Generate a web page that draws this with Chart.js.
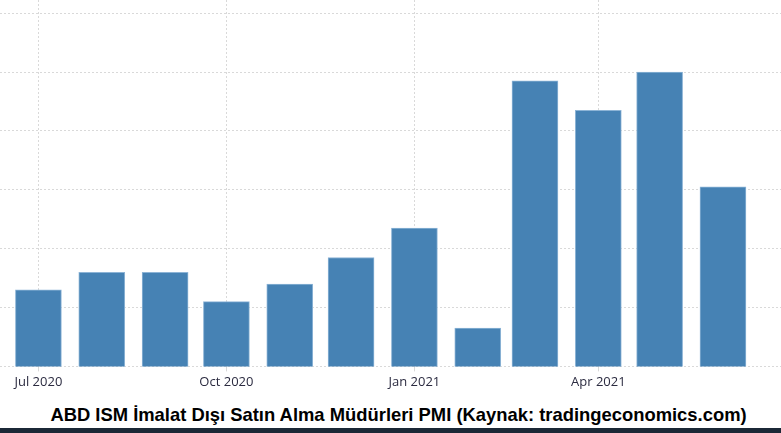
<!DOCTYPE html>
<html>
<head>
<meta charset="utf-8">
<script src="https://cdn.jsdelivr.net/npm/chart.js@4/dist/chart.umd.min.js"></script>
<style>
  html, body { margin: 0; padding: 0; background: #fff; }
  body { width: 781px; height: 433px; overflow: hidden; position: relative; }
  #wrap { position: absolute; left: 0; top: 0; width: 781px; height: 395px; }
  #title {
    position: absolute; left: 0; top: 405px; width: 797px; text-align: center;
    font: bold 18.4px "Liberation Sans", Arial, sans-serif; color: #000; line-height: 20px;
  }
  #band { position: absolute; left: 0; top: 428px; width: 781px; height: 5px; background: #1b2836; }
</style>
</head>
<body>
<div id="wrap"><canvas id="myChart"></canvas></div>
<div id="title">ABD ISM İmalat Dışı Satın Alma Müdürleri PMI (Kaynak: tradingeconomics.com)</div>
<div id="band"></div>
<script>
// aylar (ayın ilk günü) ve PMI değerleri
var months = ['2020-07', '2020-08', '2020-09', '2020-10', '2020-11', '2020-12',
              '2021-01', '2021-02', '2021-03', '2021-04', '2021-05', '2021-06'];
var values = [56.6, 57.2, 57.2, 56.2, 56.8, 57.7, 58.7, 55.3, 63.7, 62.7, 64.0, 60.1];
var tickMonths = ['2020-07', '2020-10', '2021-01', '2021-04'];
var tickLabels = ['Jul 2020', 'Oct 2020', 'Jan 2021', 'Apr 2021'];

var start = Date.UTC(2020, 6, 1);
function dayOf(m) {
  var p = m.split('-');
  return (Date.UTC(+p[0], +p[1] - 1, 1) - start) / 86400000;
}

var points = months.map(function (m, i) { return { x: dayOf(m), y: values[i] }; });
var tickDays = tickMonths.map(dayOf);

var ctx = document.getElementById('myChart').getContext('2d');
var myChart = new Chart(ctx, {
  type: 'bar',
  data: {
    datasets: [{
      label: 'PMI',
      data: points,
      backgroundColor: '#4682b4',
      borderColor: '#8db4d6',
      borderWidth: 1,
      barThickness: 46
    }]
  },
  options: {
    responsive: true,
    maintainAspectRatio: false,
    animation: false,
    layout: { padding: { left: 0, right: 0, top: 0, bottom: 2 } },
    plugins: { legend: { display: false }, tooltip: { enabled: false } },
    scales: {
      x: {
        type: 'linear',
        offset: false,
        min: -18.8,
        max: 363.4,
        afterBuildTicks: function (scale) {
          scale.ticks = tickDays.map(function (d) { return { value: d }; });
        },
        ticks: {
          autoSkip: false,
          maxRotation: 0,
          padding: 3,
          color: '#2b2b40',
          font: { family: '"Open Sans", "DejaVu Sans", sans-serif', size: 13 },
          callback: function (v) {
            var i = tickDays.indexOf(v);
            return i >= 0 ? tickLabels[i] : '';
          }
        },
        grid: { offset: false, color: '#d9d9d9', tickLength: 5 },
        border: { display: false, dash: [2, 2] }
      },
      y: {
        min: 54,
        max: 66.45,
        ticks: { display: false, stepSize: 2, includeBounds: false },
        grid: { color: '#d9d9d9', drawTicks: false },
        border: { display: false, dash: [2, 2] }
      }
    }
  }
});
</script>
</body>
</html>
